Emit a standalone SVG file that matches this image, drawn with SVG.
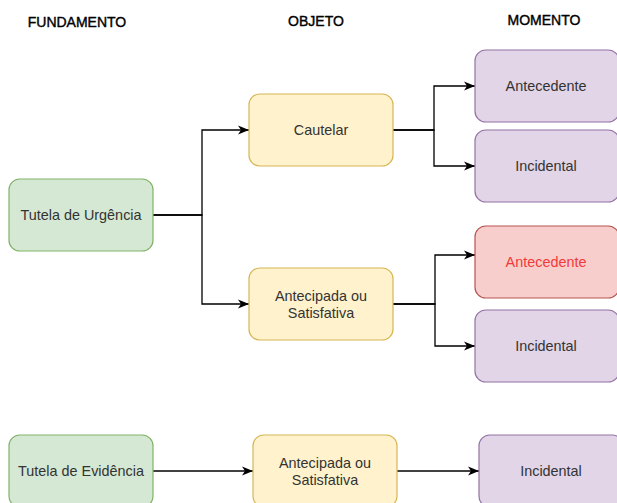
<svg xmlns="http://www.w3.org/2000/svg" width="617" height="503" viewBox="0 0 617 503">
  <defs>
    <marker id="arrow" markerUnits="userSpaceOnUse" markerWidth="12" markerHeight="10" refX="11" refY="5" orient="auto">
      <path d="M0,0.5 L11,5 L0,9.5 L3,5 Z" fill="#000"/>
    </marker>
    <style>
      .title { font-family: "Liberation Sans", Arial, sans-serif; font-size: 14px; fill: #000; stroke: #000; stroke-width: 0.4; text-anchor: middle; }
      .label { font-family: "Liberation Sans", Arial, sans-serif; font-size: 14.4px; fill: #333; text-anchor: middle; dominant-baseline: central; }
      .green { fill: #d5e8d4; stroke: #82b366; stroke-width: 1.2; }
      .yellow { fill: #fff2cc; stroke: #d6b656; stroke-width: 1.2; }
      .purple { fill: #e1d5e7; stroke: #9673a6; stroke-width: 1.2; }
      .red { fill: #f8cecc; stroke: #b85450; stroke-width: 1.2; }
      .edge { fill: none; stroke: #000; stroke-width: 1.3; marker-end: url(#arrow); }
    </style>
  </defs>
  <rect width="617" height="503" fill="#fff"/>

  <!-- column headings -->
  <g id="headings">
    <text class="title" x="77" y="26.5">FUNDAMENTO</text>
    <text class="title" x="316" y="26">OBJETO</text>
    <text class="title" x="544" y="25">MOMENTO</text>
  </g>

  <!-- connectors -->
  <g id="connectors">
    <path class="edge" d="M153,215 H202 V130 H249"/>
    <path class="edge" d="M153,215 H202 V304 H249"/>
    <path class="edge" d="M393,130 H434 V86 H475"/>
    <path class="edge" d="M393,130 H434 V166 H475"/>
    <path class="edge" d="M393,304 H435 V255 H475"/>
    <path class="edge" d="M393,304 H435 V346 H475"/>
    <path class="edge" d="M153,471 H253"/>
    <path class="edge" d="M397,471 H479"/>
  </g>

  <!-- nodes -->
  <g id="tutela-urgencia">
    <rect class="green" x="9" y="179" width="144" height="72" rx="10.8"/>
    <text class="label" x="81" y="215">Tutela de Urgência</text>
  </g>
  <g id="cautelar">
    <rect class="yellow" x="249" y="94" width="144" height="72" rx="10.8"/>
    <text class="label" x="321" y="130">Cautelar</text>
  </g>
  <g id="antecipada-urgencia">
    <rect class="yellow" x="249" y="268" width="144" height="72" rx="10.8"/>
    <text class="label" x="321" y="296">Antecipada ou</text>
    <text class="label" x="321" y="313">Satisfativa</text>
  </g>
  <g id="cautelar-antecedente">
    <rect class="purple" x="475" y="50" width="144" height="72" rx="10.8"/>
    <text class="label" x="546" y="86">Antecedente</text>
  </g>
  <g id="cautelar-incidental">
    <rect class="purple" x="475" y="130" width="144" height="72" rx="10.8"/>
    <text class="label" x="546" y="166">Incidental</text>
  </g>
  <g id="antecipada-antecedente">
    <rect class="red" x="475" y="226" width="144" height="72" rx="10.8"/>
    <text class="label" x="546" y="262" style="fill:#f03a3a">Antecedente</text>
  </g>
  <g id="antecipada-incidental">
    <rect class="purple" x="475" y="310" width="144" height="72" rx="10.8"/>
    <text class="label" x="546" y="346">Incidental</text>
  </g>
  <g id="tutela-evidencia">
    <rect class="green" x="9" y="435" width="144" height="72" rx="10.8"/>
    <text class="label" x="81" y="471">Tutela de Evidência</text>
  </g>
  <g id="antecipada-evidencia">
    <rect class="yellow" x="253" y="435" width="144" height="72" rx="10.8"/>
    <text class="label" x="325" y="463">Antecipada ou</text>
    <text class="label" x="325" y="480">Satisfativa</text>
  </g>
  <g id="evidencia-incidental">
    <rect class="purple" x="479" y="435" width="144" height="72" rx="10.8"/>
    <text class="label" x="551" y="471">Incidental</text>
  </g>
</svg>
